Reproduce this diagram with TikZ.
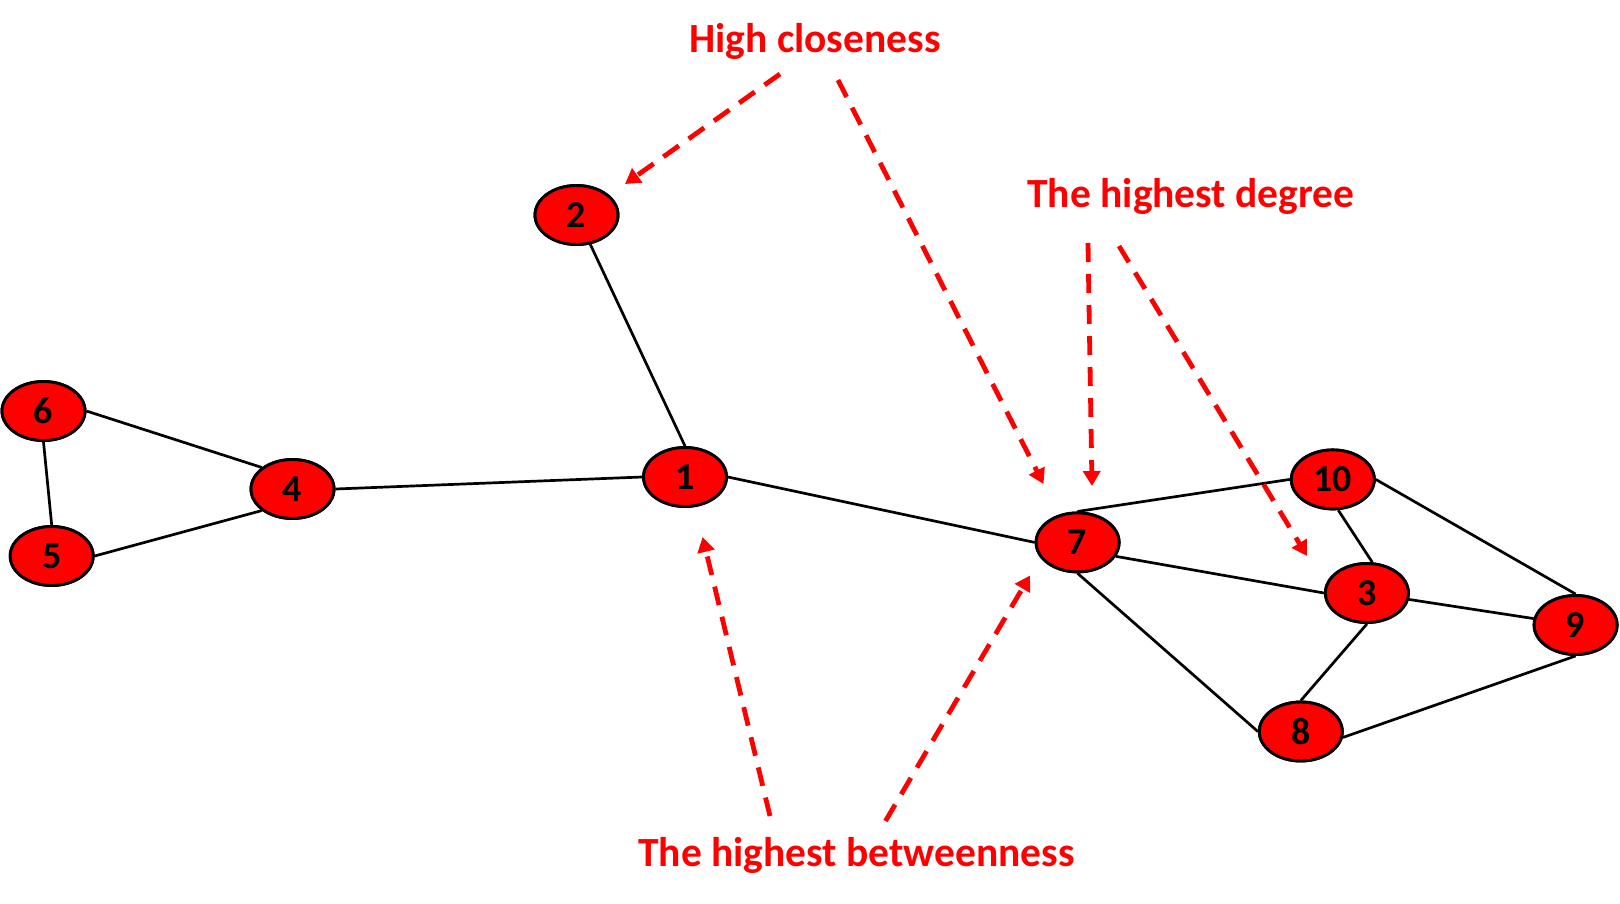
\documentclass[tikz,border=0pt]{standalone}
\usepackage{fontspec}
\setmainfont{Carlito}
\usetikzlibrary{shapes.geometric,arrows.meta}
\definecolor{nodered}{RGB}{255,0,0}
\tikzset{
  vert/.style={ellipse,draw=black,line width=2.9pt,fill=nodered,minimum width=83pt,minimum height=59pt,inner sep=0pt,font=\fontsize{38}{44}\selectfont\bfseries,text=black},
  edge/.style={draw=black,line width=2.7pt},
  lbl/.style={text=nodered,font=\fontsize{41.5}{48}\selectfont\bfseries,inner sep=0pt},
  hint/.style={draw=nodered,line width=4.8pt,dash pattern=on 19pt off 12pt,-{Triangle[length=15pt,width=17pt]}}
}
\begin{document}
\begin{tikzpicture}[x=1pt,y=-1pt]
\useasboundingbox (0,0) rectangle (1620,903);
\fill[white] (0,0) rectangle (1620,903);
% node positions
\node[vert] (n2) at (576.5,215) {2};
\node[vert] (n6) at (43.5,411) {6};
\node[vert] (n4) at (292.5,489) {4};
\node[vert] (n5) at (51.7,556) {5};
\node[vert] (n1) at (685,477) {1};
\node[vert] (n7) at (1077.6,542.4) {7};
\node[vert] (n10) at (1332.8,479.4) {10};
\node[vert] (n3) at (1366.9,593) {3};
\node[vert] (n9) at (1575.6,625) {9};
\node[vert] (n8) at (1300.8,731.5) {8};
% edges
\draw[edge] (n2) -- (n1.north);
\draw[edge] (n6.east) -- (n4.145);
\draw[edge] (n6.south) -- (n5.north);
\draw[edge] (n5.east) -- (n4.215);
\draw[edge] (n4.east) -- (n1.west);
\draw[edge] (n1.east) -- (n7.west);
\draw[edge] (n7.north) -- (n10.west);
\draw[edge] (n7.-20) -- (n3.west);
\draw[edge] (n7.south) -- (n8.west);
\draw[edge] (n10.-80) -- (n3.80);
\draw[edge] (n10.east) -- (n9.north);
\draw[edge] (n3) -- (n9);
\draw[edge] (n3.south) -- (n8.north);
\draw[edge] (n8.-8) -- (n9.south);
% redraw nodes above edges
\node[vert] at (n2) {2};
\node[vert] at (n6) {6};
\node[vert] at (n4) {4};
\node[vert] at (n5) {5};
\node[vert] at (n1) {1};
\node[vert] at (n7) {7};
\node[vert] at (n10) {10};
\node[vert] at (n3) {3};
\node[vert] at (n9) {9};
\node[vert] at (n8) {8};
% labels
\node[lbl] (lc) at (815,41.5) {High closeness};
\node[lbl] (ld) at (1191,196.5) {The highest degree};
\node[lbl] (lb) at (856.5,855) {The highest betweenness};
% annotation arrows
\coordinate (a1s) at (780,74);   \coordinate (a1e) at (625,184);
\coordinate (a2s) at (838,80);   \coordinate (a2e) at (1043.5,484);
\coordinate (a3s) at (1088,243); \coordinate (a3e) at (1092,486);
\coordinate (a4s) at (1119,246); \coordinate (a4e) at (1307,556);
\coordinate (a5s) at (770,816);  \coordinate (a5e) at (702.6,537);
\coordinate (a6s) at (885.5,821);\coordinate (a6e) at (1030,575.5);
\draw[hint] (a1s) -- (a1e);
\draw[hint] (a2s) -- (a2e);
\draw[hint] (a3s) -- (a3e);
\draw[hint] (a4s) -- (a4e);
\draw[hint] (a5s) -- (a5e);
\draw[hint] (a6s) -- (a6e);
\end{tikzpicture}
\end{document}
